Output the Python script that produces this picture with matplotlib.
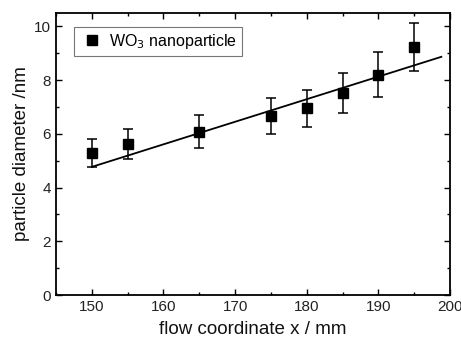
import numpy as np
import matplotlib
matplotlib.use("Agg")
import matplotlib.pyplot as plt
from matplotlib.ticker import MultipleLocator
from matplotlib.lines import Line2D

# -----------------------------
# DATA
# -----------------------------
flow_x = [150, 155, 165, 175, 180, 185, 190, 195]
diameter = [5.29, 5.63, 6.08, 6.68, 6.95, 7.51, 8.21, 9.23]
diameter_err = [0.53, 0.56, 0.61, 0.67, 0.70, 0.75, 0.82, 0.90]

fit_slope = 0.0840
fit_intercept = -7.83
fit_range = [150, 198.8]

# -----------------------------
# PLOT
# -----------------------------
plt.rcParams['font.family'] = ['Liberation Sans', 'DejaVu Sans']

fig = plt.figure(figsize=(4.61, 3.37), dpi=100)
ax = fig.add_axes([0.1215, 0.1246, 0.8545, 0.8368])

fit_x = np.array(fit_range)
ax.plot(fit_x, fit_slope * fit_x + fit_intercept, color='black', lw=1.3, zorder=2)

ax.errorbar(flow_x, diameter, yerr=diameter_err, fmt='s', color='black',
            markersize=6.5, capsize=3.5, elinewidth=1.1, capthick=1.1, zorder=3)

ax.set_xlim(145, 200)
ax.set_ylim(0, 10.5)
ax.xaxis.set_major_locator(MultipleLocator(10))
ax.xaxis.set_minor_locator(MultipleLocator(5))
ax.yaxis.set_major_locator(MultipleLocator(2))
ax.yaxis.set_minor_locator(MultipleLocator(1))
ax.tick_params(which='both', direction='in', top=True, right=True,
               labelsize=11, width=1.0, color='black', labelcolor='#222222')
ax.tick_params(which='major', length=4.5)
ax.tick_params(which='minor', length=2.5)
for s in ax.spines.values():
    s.set_linewidth(1.3)

ax.set_xlabel('flow coordinate x / mm', fontsize=13.5, labelpad=5, color='#111111')
ax.set_ylabel('particle diameter /nm', fontsize=13.5, labelpad=3, color='#111111')

# legend: marker only
handle = Line2D([], [], marker='s', color='black', linestyle='none', markersize=6.5)
leg = ax.legend([handle], ['WO$_3$ nanoparticle'], loc='upper left',
                bbox_to_anchor=(0.046, 0.95), borderaxespad=0, fontsize=11.5,
                frameon=True, fancybox=False, edgecolor='#555555',
                handletextpad=0.3, borderpad=0.3, handlelength=1.6)
leg.get_frame().set_linewidth(0.8)

fig.savefig('out.png', dpi=100)
